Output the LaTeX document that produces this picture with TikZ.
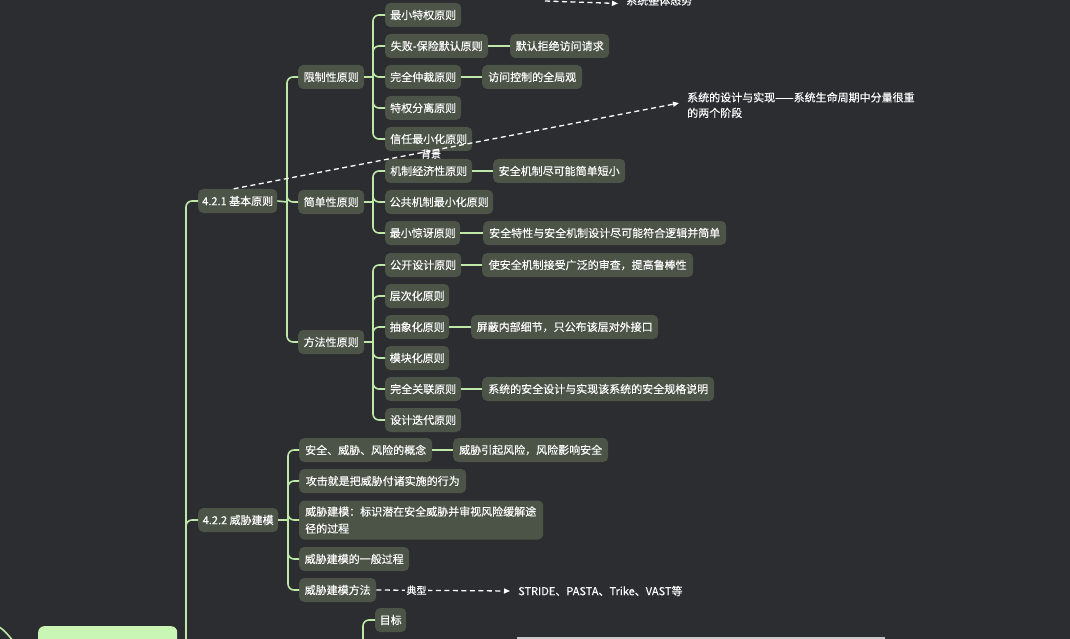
\documentclass[tikz,border=0pt]{standalone}
\usepackage{fontspec}
\setmainfont{Noto Sans CJK SC}[FakeBold=0.25]
\usetikzlibrary{arrows.meta,calc}
\definecolor{bgc}{HTML}{2C2D31}
\definecolor{nodefill}{HTML}{4B5447}
\definecolor{linegreen}{HTML}{BDE8A8}
\definecolor{rootfill}{HTML}{C9F6B5}
\definecolor{scrollc}{HTML}{C8C8C8}
\newcommand{\nfs}{\fontsize{11}{15}\selectfont}
\tikzset{
  box/.style={fill=nodefill, rounded corners=5pt, text=white, font=\nfs,
    minimum height=24pt, inner xsep=0pt, inner ysep=3pt, anchor=west, align=center},
  conn/.style={draw=linegreen, line width=1.6pt, rounded corners=6pt},
  dashconn/.style={draw=white, line width=1.3pt, dash pattern=on 5pt off 3.5pt,
    -{Triangle[length=6pt,width=5pt]}},
  plain/.style={text=white, font=\nfs, inner sep=0pt, anchor=west},
  lbl/.style={text=white, font=\fontsize{10}{12}\selectfont, inner sep=1.5pt, fill=bgc}
}
\begin{document}
\begin{tikzpicture}[x=1pt,y=-1pt]
\useasboundingbox (0,0) rectangle (1070,639);
\fill[bgc] (0,0) rectangle (1070,639);
\begin{scope}
\clip (0,0) rectangle (1070,639);

% ---- nodes: level 2
\node[box, minimum width=79pt] (n421) at (198,201) {4.2.1 基本原则};
\node[box, minimum width=80pt] (n422) at (198,520) {4.2.2 威胁建模};
\node[box, minimum width=66pt] (xz) at (298,77) {限制性原则};
\node[box, minimum width=66pt] (jd) at (298,202) {简单性原则};
\node[box, minimum width=66pt] (ff) at (298,342) {方法性原则};

% ---- under 限制性原则
\node[box, minimum width=76pt] (a1) at (385,15) {最小特权原则};
\node[box, minimum width=103pt] (a2) at (385,46) {失败-保险默认原则};
\node[box, minimum width=76pt] (a3) at (385,77) {完全仲裁原则};
\node[box, minimum width=76pt] (a4) at (385,108) {特权分离原则};
\node[box, minimum width=87pt] (a5) at (385,139) {信任最小化原则};
\node[box, minimum width=99pt] (b2) at (510,46) {默认拒绝访问请求};
\node[box, minimum width=100pt] (b3) at (482,77) {访问控制的全局观};

% ---- under 简单性原则
\node[box, minimum width=87pt] (c1) at (385,171) {机制经济性原则};
\node[box, minimum width=108pt] (c2) at (385,202) {公共机制最小化原则};
\node[box, minimum width=75pt] (c3) at (385,233) {最小惊讶原则};
\node[box, minimum width=132pt] (d1) at (493,171) {安全机制尽可能简单短小};
\node[box, minimum width=243pt] (d3) at (483,233) {安全特性与安全机制设计尽可能符合逻辑并简单};

% ---- under 方法性原则
\node[box, minimum width=76pt] (e1) at (385,265) {公开设计原则};
\node[box, minimum width=64pt] (e2) at (385,296) {层次化原则};
\node[box, minimum width=64pt] (e3) at (385,327) {抽象化原则};
\node[box, minimum width=64pt] (e4) at (385,358) {模块化原则};
\node[box, minimum width=76pt] (e5) at (385,389) {完全关联原则};
\node[box, minimum width=76pt] (e6) at (385,420) {设计迭代原则};
\node[box, minimum width=211pt] (f1) at (482,265) {使安全机制接受广泛的审查，提高鲁棒性};
\node[box, minimum width=187pt] (f3) at (471,327) {屏蔽内部细节，只公布该层对外接口};
\node[box, minimum width=232pt] (f5) at (482,389) {系统的安全设计与实现该系统的安全规格说明};

% ---- under 威胁建模
\node[box, minimum width=133pt] (g1) at (299,450) {安全、威胁、风险的概念};
\node[box, minimum width=155pt] (h1) at (453,450) {威胁引起风险，风险影响安全};
\node[box, minimum width=167pt] (g2) at (299,481) {攻击就是把威胁付诸实施的行为};
\node[box, minimum width=244pt, minimum height=39pt, inner xsep=6pt, text width=232pt, align=left, font=\fontsize{11}{17}\selectfont] (g3) at (299,520) {威胁建模：标识潜在安全威胁并审视风险缓解途\\径的过程};
\node[box, minimum width=110pt] (g4) at (299,559) {威胁建模的一般过程};
\node[box, minimum width=77pt] (g5) at (299,590) {威胁建模方法};
\node[plain] (stride) at (518,591) {STRIDE、PASTA、Trike、VAST等};

% ---- bottom
\node[box, minimum width=31pt] (mb) at (375,620) {目标};
\node[fill=rootfill, rounded corners=6pt, minimum width=139pt, minimum height=34pt, anchor=north west, inner sep=0pt] (root) at (38,626) {};
\fill[scrollc] (517,637) rectangle (885,640);

% ---- free texts
\node[plain, align=left, font=\fontsize{11}{15.5}\selectfont, anchor=north west] (sys) at (687,92) {系统的设计与实现——系统生命周期中分量很重\\的两个阶段};
\node[plain] (top) at (626,0.5) {系统整体态势};
\coordinate (topstart) at (545,1);

% ---- connectors: main
\coordinate (m0) at (186,645);
\draw[conn] (m0) |- (n421.west);
\draw[conn] (m0) |- (n422.west);
\coordinate (bl0) at (-4,625);
\coordinate (bl1) at (14,642);
\draw[conn] (bl0) .. controls (4,630) .. (bl1);

% level 2
\coordinate (j1) at (287,202);
\draw[conn] (n421.east) -- (j1);
\draw[conn] (j1) |- (xz.west);
\draw[conn] (j1) |- (jd.west);
\draw[conn] (j1) |- (ff.west);

\coordinate (j2) at (373,77);
\draw[conn] (xz.east) -- (j2);
\foreach \n in {a1,a2,a3,a4,a5} \draw[conn] (j2) |- (\n.west);
\draw[conn] (a2.east) -- (b2.west);
\draw[conn] (a3.east) -- (b3.west);

\coordinate (j3) at (373,202);
\draw[conn] (jd.east) -- (j3);
\foreach \n in {c1,c2,c3} \draw[conn] (j3) |- (\n.west);
\draw[conn] (c1.east) -- (d1.west);
\draw[conn] (c3.east) -- (d3.west);

\coordinate (j4) at (373,342);
\draw[conn] (ff.east) -- (j4);
\foreach \n in {e1,e2,e3,e4,e5,e6} \draw[conn] (j4) |- (\n.west);
\draw[conn] (e1.east) -- (f1.west);
\draw[conn] (e3.east) -- (f3.west);
\draw[conn] (e5.east) -- (f5.west);

\coordinate (j5) at (288,520);
\draw[conn] (n422.east) -- (j5);
\foreach \n in {g1,g2,g3,g4,g5} \draw[conn] (j5) |- (\n.west);
\draw[conn] (g1.east) -- (h1.west);

\coordinate (t0) at (363,645);
\draw[conn] (t0) |- (mb.west);

% ---- dashed relations
\draw[dashconn] ([xshift=-4pt]n421.north) -- ([xshift=-8pt,yshift=2pt]sys.west);
\node[text=white, font=\fontsize{10}{12}\selectfont, inner sep=0pt] (bj) at (431,154) {背景};
\draw[dashconn] (g5.east) -- node[lbl, pos=0.3] (dx) {典型} ([xshift=-8pt]stride.west);
\draw[dashconn] (topstart) -- ([xshift=-8pt,yshift=-3pt]top.west);
\end{scope}
\end{tikzpicture}
\end{document}
